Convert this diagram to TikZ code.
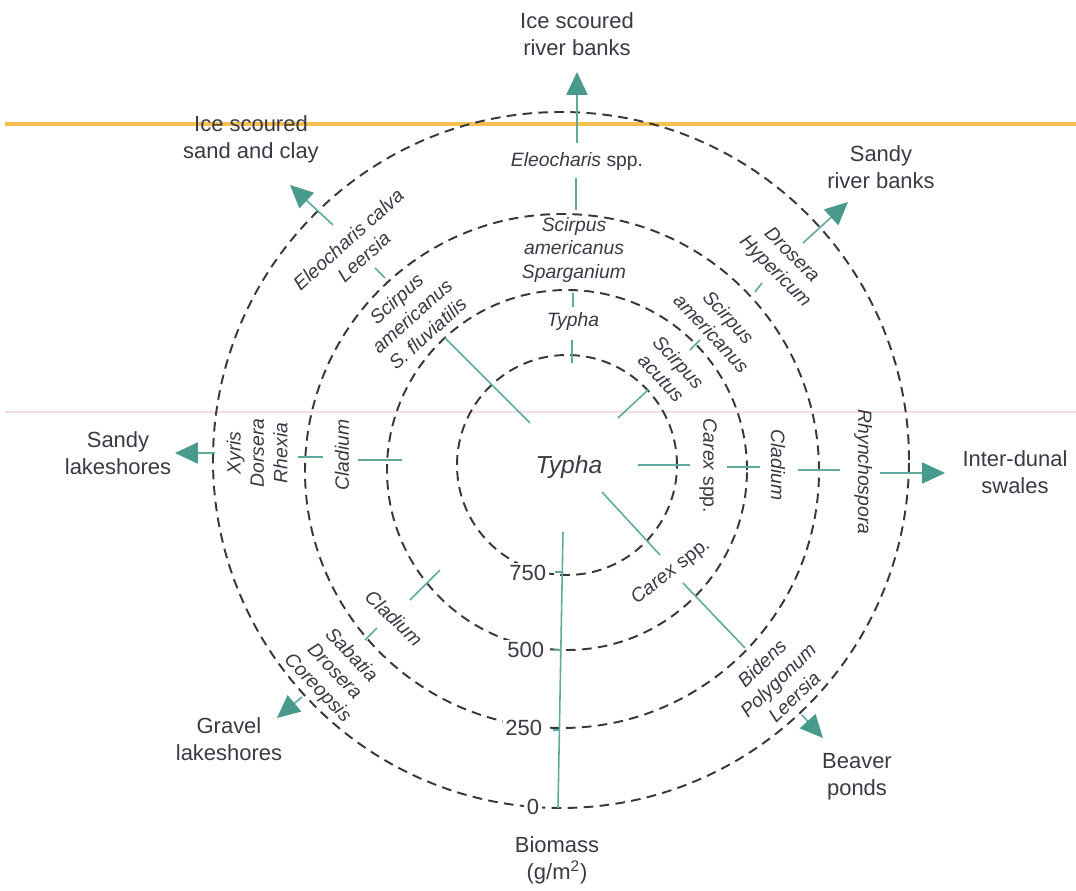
\documentclass[tikz,border=0pt]{standalone}
\usepackage{fontspec}
\setmainfont{Liberation Sans}
\usepackage{tikz}
\usetikzlibrary{arrows.meta}
\definecolor{ringgray}{RGB}{55,55,62}
\definecolor{spoketeal}{RGB}{95,170,158}
\definecolor{headteal}{RGB}{72,155,140}
\definecolor{labelgray}{RGB}{58,58,70}
\definecolor{scanorange}{RGB}{246,192,80}
\definecolor{scanpink}{RGB}{242,222,234}

\tikzset{
  ring/.style={draw=ringgray, line width=1.1pt, dash pattern=on 5.5pt off 3.6pt},
  spoke/.style={draw=spoketeal, line width=0.9pt},
  habarrow/.style={spoke, -{Triangle[length=13pt,width=12pt,color=headteal]}},
  habitat/.style={text=labelgray, font=\fontsize{12.5}{15.3}\selectfont, align=center, inner sep=0pt},
  species/.style={text=labelgray, font=\fontsize{11}{13.3}\selectfont\itshape, align=center, inner sep=0pt},
  scalenum/.style={habitat, anchor=east, fill=white, inner sep=1.5pt}
}

\begin{document}
\begin{tikzpicture}[x=0.02cm, y=0.02cm]
  \fill[white] (-565,-424) rectangle (511,466);
  \useasboundingbox (-565,-424) rectangle (511,466);
  % scan streaks
  \draw[scanorange, line width=1.8pt] (-560,342) -- (511,342);
  \draw[scanpink, line width=1.2pt] (-560,54) -- (511,54);

  % biomass rings
  \coordinate (c) at (0,0);
  \draw[ring] (-4,6) circle[radius=348];
  \draw[ring] (-3,-5) circle[radius=257];
  \draw[ring] (2,-4) circle[radius=180];
  \draw[ring] (2,1) circle[radius=110];

  \node[species, font=\fontsize{14}{16}\selectfont\itshape] (typha) at (4,-1) {Typha};

  % biomass axis
  \draw[spoke] (-2,-66) -- (-7,-342);
  \node[scalenum] (n750) at (-16,-107) {750};
  \node[scalenum] (n500) at (-18,-184) {500};
  \node[scalenum] (n250) at (-20,-262) {250};
  \node[scalenum] (n0) at (-23,-341) {0};
  \draw[spoke] (-10,-106) -- (-3,-106);
  \draw[spoke] (-11,-184) -- (-4,-184);
  \draw[spoke] (-12,-264) -- (-5,-264);
  \node[habitat] (bio) at (-8,-394) {Biomass\\(g/m\textsuperscript{2})};

  % north
  \draw[spoke] (7,103) -- (7,126);
  \node[species] (ntypha) at (8,144) {Typha};
  \draw[spoke] (8,159) -- (8,173);
  \node[species] (nscirp) at (9,216) {Scirpus\\americanus\\Sparganium};
  \draw[spoke] (11,256) -- (11,288);
  \node[species] (neleo) at (12,304) {Eleocharis \textup{spp.}};
  \coordinate (nbase) at (12,323);
  \coordinate (ntip) at (12,394);
  \draw[habarrow] (nbase) -- (ntip);
  \node[habitat] (nhab) at (12,432) {Ice scoured\\river banks};

  % north-east
  \draw[spoke] (53,48) -- (83,76);
  \node[species, rotate=-47] (neacut) at (105,96) {Scirpus\\acutus};
  \draw[spoke] (125,116) -- (135,126);
  \node[species, rotate=-47] (neamer) at (155,141) {Scirpus\\americanus};
  \draw[spoke] (190,174) -- (197,183);
  \node[species, rotate=-45] (nedros) at (218,202) {Drosera\\Hypericum};
  \coordinate (nebase) at (238,223);
  \coordinate (netip) at (283,264);
  \draw[habarrow] (nebase) -- (netip);
  \node[habitat] (nehab) at (316,299) {Sandy\\river banks};

  % east
  \draw[spoke] (73,1) -- (125,1);
  \node[species, rotate=-90] (ecarex) at (143,0) {Carex \textup{spp.}};
  \draw[spoke] (162,-1) -- (195,-1);
  \node[species, rotate=-90] (eclad) at (213,1) {Cladium};
  \draw[spoke] (233,-4) -- (275,-4);
  \node[species, rotate=-90] (erhyn) at (298,-6) {Rhynchospora};
  \coordinate (ebase) at (315,-7);
  \coordinate (etip) at (380,-7);
  \draw[habarrow] (ebase) -- (etip);
  \node[habitat] (ehab) at (450,-6) {Inter-dunal\\swales};

  % south-east
  \draw[spoke] (37,-26) -- (95,-89);
  \node[species, rotate=38] (secarex) at (106,-106) {Carex \textup{spp.}};
  \draw[spoke] (118,-117) -- (180,-182);
  \node[species, rotate=44] (sebid) at (213,-214) {Bidens\\Polygonum\\Leersia};
  \coordinate (sebase) at (237,-249);
  \coordinate (setip) at (258,-272);
  \draw[habarrow] (sebase) -- (setip);
  \node[habitat] (sehab) at (292,-311) {Beaver\\ponds};

  % south-west
  \draw[spoke] (-155,-134) -- (-125,-104);
  \node[species, rotate=-44] (swclad) at (-171,-152) {Cladium};
  \draw[spoke] (-200,-174) -- (-188,-162);
  \node[species, rotate=-46] (swsab) at (-231,-206) {Sabatia\\Drosera\\Coreopsis};
  \coordinate (swbase) at (-263,-231);
  \coordinate (swtip) at (-288,-252);
  \draw[habarrow] (swbase) -- (swtip);
  \node[habitat] (swhab) at (-336,-273) {Gravel\\lakeshores};

  % west
  \draw[spoke] (-207,6) -- (-163,6);
  \node[species, rotate=90] (wclad) at (-223,11) {Cladium};
  \draw[spoke] (-267,9) -- (-242,9);
  \node[species, rotate=90] (wxyr) at (-308,13) {Xyris\\Dorsera\\Rhexia};
  \coordinate (wbase) at (-350,13);
  \coordinate (wtip) at (-390,13);
  \draw[habarrow] (wbase) -- (wtip);
  \node[habitat] (whab) at (-447,13) {Sandy\\lakeshores};

  % north-west
  \draw[spoke] (-120,128) -- (-35,43);
  \node[species, rotate=42] (nwscir) at (-153,150) {Scirpus\\americanus\\S. fluviatilis};
  \draw[spoke] (-190,198) -- (-180,188);
  \node[species, rotate=42] (nweleo) at (-209,218) {Eleocharis calva\\Leersia};
  \coordinate (nwbase) at (-232,241);
  \coordinate (nwtip) at (-275,281);
  \draw[habarrow] (nwbase) -- (nwtip);
  \node[habitat] (nwhab) at (-314,327) {Ice scoured\\sand and clay};
\end{tikzpicture}
\end{document}
